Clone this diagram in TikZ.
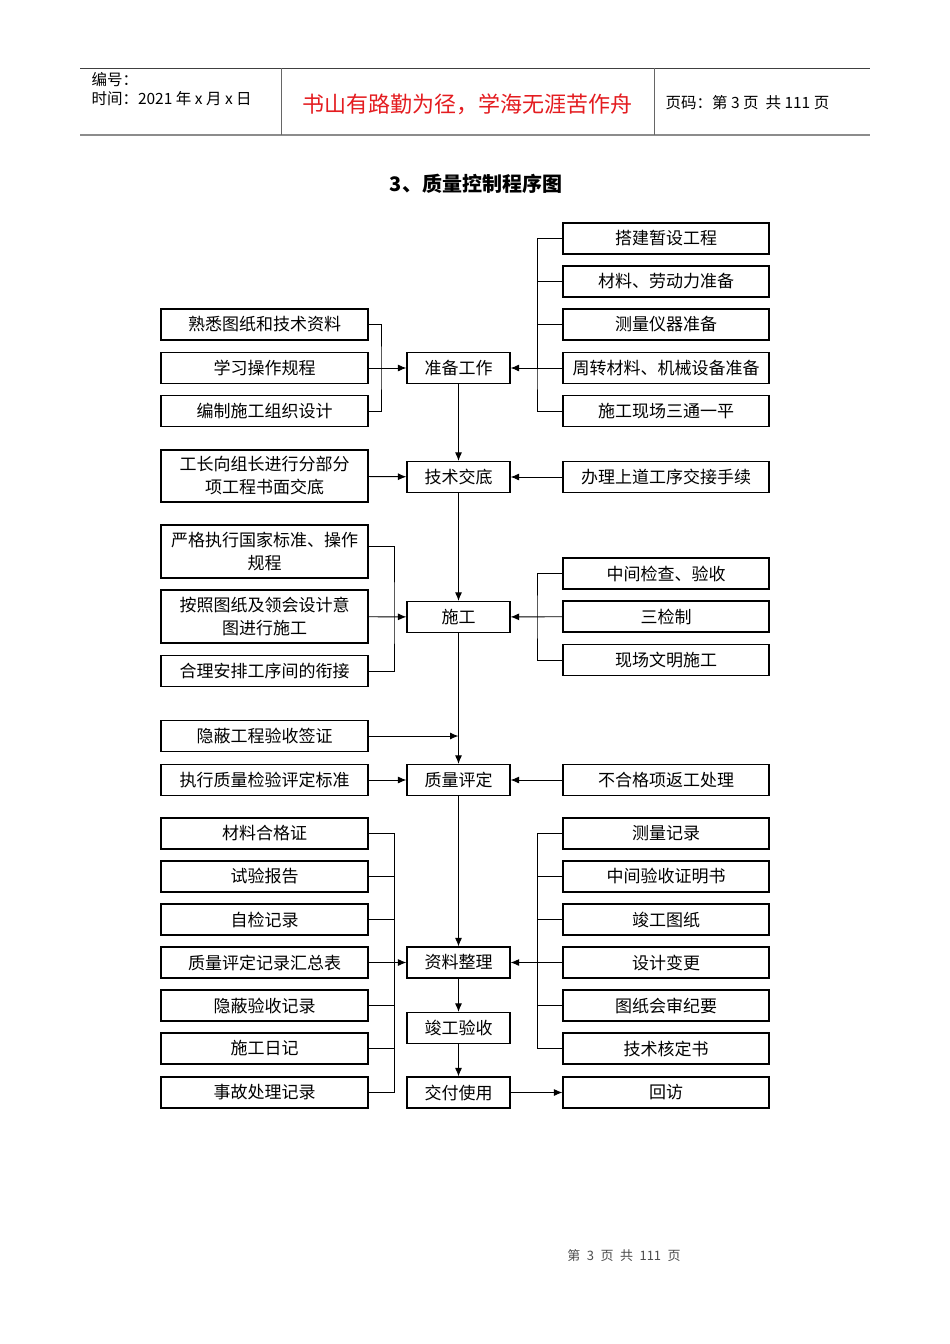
\documentclass[tikz,border=0pt]{standalone}
\usepackage{fontspec}
\setmainfont{Noto Sans CJK SC}
\usetikzlibrary{arrows.meta}
\definecolor{mottored}{RGB}{228,28,32}
\begin{document}
\begin{tikzpicture}[x=1pt,y=-1pt,>={Latex[length=8.5pt,width=7pt]},
	box/.style={draw,line width=1.2pt,inner sep=0pt,minimum height=31pt,align=center,font=\fontsize{17}{23}\selectfont},
	lbox/.style={box,minimum width=207pt},
	rbox/.style={box,minimum width=206pt},
	cbox/.style={box,minimum width=103pt},
	link/.style={line width=0.9pt}]
	\useasboundingbox (0,0) rectangle (950,1344);
	\fill[white] (0,0) rectangle (950,1344);
	% header
	\draw[line width=0.8pt,black!75] (80,68) -- (870,68);
	\draw[line width=2pt,black!45] (80,135) -- (870,135);
	\draw[line width=0.8pt,black!60] (281,68) -- (281,135) (654,68) -- (654,135);
	\node[anchor=west,font=\fontsize{15.5}{17}\selectfont] (hno) at (88,80) {编号：};
	\node[anchor=west,font=\fontsize{15.5}{17}\selectfont] (hdate) at (88,99) {时间：2021 年 x 月 x 日};
	\node[mottored,font=\fontsize{22}{24}\selectfont] (motto) at (467,104) {书山有路勤为径，学海无涯苦作舟};
	\node[anchor=west,font=\fontsize{15.5}{17}\selectfont] (hpage) at (662,103) {页码：第 3 页\ \ 共 111 页};
	\node[font=\fontsize{20}{22}\selectfont\bfseries] (title) at (476,184) {3、质量控制程序图};
	% main column
	\node[cbox] (prep) at (458.5,368) {准备工作};
	\node[cbox] (tech) at (458.5,477) {技术交底};
	\node[cbox] (cons) at (458.5,617) {施工};
	\node[cbox] (qual) at (458.5,780) {质量评定};
	\node[cbox] (docs) at (458.5,962.5) {资料整理};
	\node[cbox] (acc) at (458.5,1028) {竣工验收};
	\node[cbox] (hand) at (458.5,1092.5) {交付使用};
	% left side
	\node[lbox] (la1) at (264.5,324.5) {熟悉图纸和技术资料};
	\node[lbox] (la2) at (264.5,368) {学习操作规程};
	\node[lbox] (la3) at (264.5,411) {编制施工组织设计};
	\node[lbox,minimum height=52pt] (lb1) at (264.5,476) {工长向组长进行分部分\\项工程书面交底};
	\node[lbox,minimum height=53pt] (lc1) at (264.5,551.5) {严格执行国家标准、操作\\规程};
	\node[lbox,minimum height=53pt] (lc2) at (264.5,616.5) {按照图纸及领会设计意\\图进行施工};
	\node[lbox] (lc3) at (264.5,671) {合理安排工序间的衔接};
	\node[lbox] (ld1) at (264.5,736) {隐蔽工程验收签证};
	\node[lbox] (ld2) at (264.5,780) {执行质量检验评定标准};
	\node[lbox] (le1) at (264.5,833.5) {材料合格证};
	\node[lbox] (le2) at (264.5,876.5) {试验报告};
	\node[lbox] (le3) at (264.5,919.5) {自检记录};
	\node[lbox] (le4) at (264.5,962.5) {质量评定记录汇总表};
	\node[lbox] (le5) at (264.5,1005.5) {隐蔽验收记录};
	\node[lbox] (le6) at (264.5,1048.5) {施工日记};
	\node[lbox] (le7) at (264.5,1092.5) {事故处理记录};
	% right side
	\node[rbox] (ra1) at (666,238.5) {搭建暂设工程};
	\node[rbox] (ra2) at (666,281.5) {材料、劳动力准备};
	\node[rbox] (ra3) at (666,324.5) {测量仪器准备};
	\node[rbox] (ra4) at (666,368) {周转材料、机械设备准备};
	\node[rbox] (ra5) at (666,411) {施工现场三通一平};
	\node[rbox] (rb1) at (666,477) {办理上道工序交接手续};
	\node[rbox] (rc1) at (666,573.5) {中间检查、验收};
	\node[rbox] (rc2) at (666,616.5) {三检制};
	\node[rbox] (rc3) at (666,660) {现场文明施工};
	\node[rbox] (rd1) at (666,780) {不合格项返工处理};
	\node[rbox] (re1) at (666,833.5) {测量记录};
	\node[rbox] (re2) at (666,876.5) {中间验收证明书};
	\node[rbox] (re3) at (666,919.5) {竣工图纸};
	\node[rbox] (re4) at (666,962.5) {设计变更};
	\node[rbox] (re5) at (666,1005.5) {图纸会审纪要};
	\node[rbox] (re6) at (666,1048.5) {技术核定书};
	\node[rbox] (re7) at (666,1092.5) {回访};
	\node[font=\fontsize{13}{15}\selectfont,black!70] (foot) at (624,1256) {第\enspace 3\enspace 页\enspace 共\enspace 111\enspace 页};
	% bracket joints
	\path (381,368) coordinate (ja)
	(537,368) coordinate (jb)
	(394,617) coordinate (jc)
	(537,617) coordinate (jd)
	(394,962.5) coordinate (je)
	(537,962.5) coordinate (jf);
	% brackets
	\draw[link] (la1.east) -| (ja) |- (la3.east);
	\draw[link] (ra1.west) -| (jb) |- (ra5.west);
	\foreach \n in {ra2,ra3} \draw[link] (\n.west) -| (jb);
	\draw[link] ([yshift=5.5pt]lc1.east) -| (jc) |- (lc3.east);
	\draw[link] (rc1.west) -| (jd) |- (rc3.west);
	\draw[link] (le1.east) -| (je) |- (le7.east);
	\foreach \n in {le2,le3,le5,le6} \draw[link] (\n.east) -| (je);
	\draw[link] (re1.west) -| (jf) |- (re6.west);
	\foreach \n in {re2,re3,re5} \draw[link] (\n.west) -| (jf);
	% arrows
	\draw[link,->] (la2) -- (prep);
	\draw[link,->] (ra4) -- (prep);
	\draw[link,->] (lb1) -- (tech);
	\draw[link,->] (rb1) -- (tech);
	\draw[link,->] (lc2) -- (cons);
	\draw[link,->] (rc2) -- (cons);
	\draw[link,->] (ld1.east) -- (ld1.east -| qual.north);
	\draw[link,->] (ld2) -- (qual);
	\draw[link,->] (rd1) -- (qual);
	\draw[link,->] (le4) -- (docs);
	\draw[link,->] (re4) -- (docs);
	\draw[link,->] (prep) -- (tech);
	\draw[link,->] (tech) -- (cons);
	\draw[link,->] (cons) -- (qual);
	\draw[link,->] (qual) -- (docs);
	\draw[link,->] (docs) -- (acc);
	\draw[link,->] (acc) -- (hand);
	\draw[link,->] (hand) -- (re7);
\end{tikzpicture}
\end{document}
